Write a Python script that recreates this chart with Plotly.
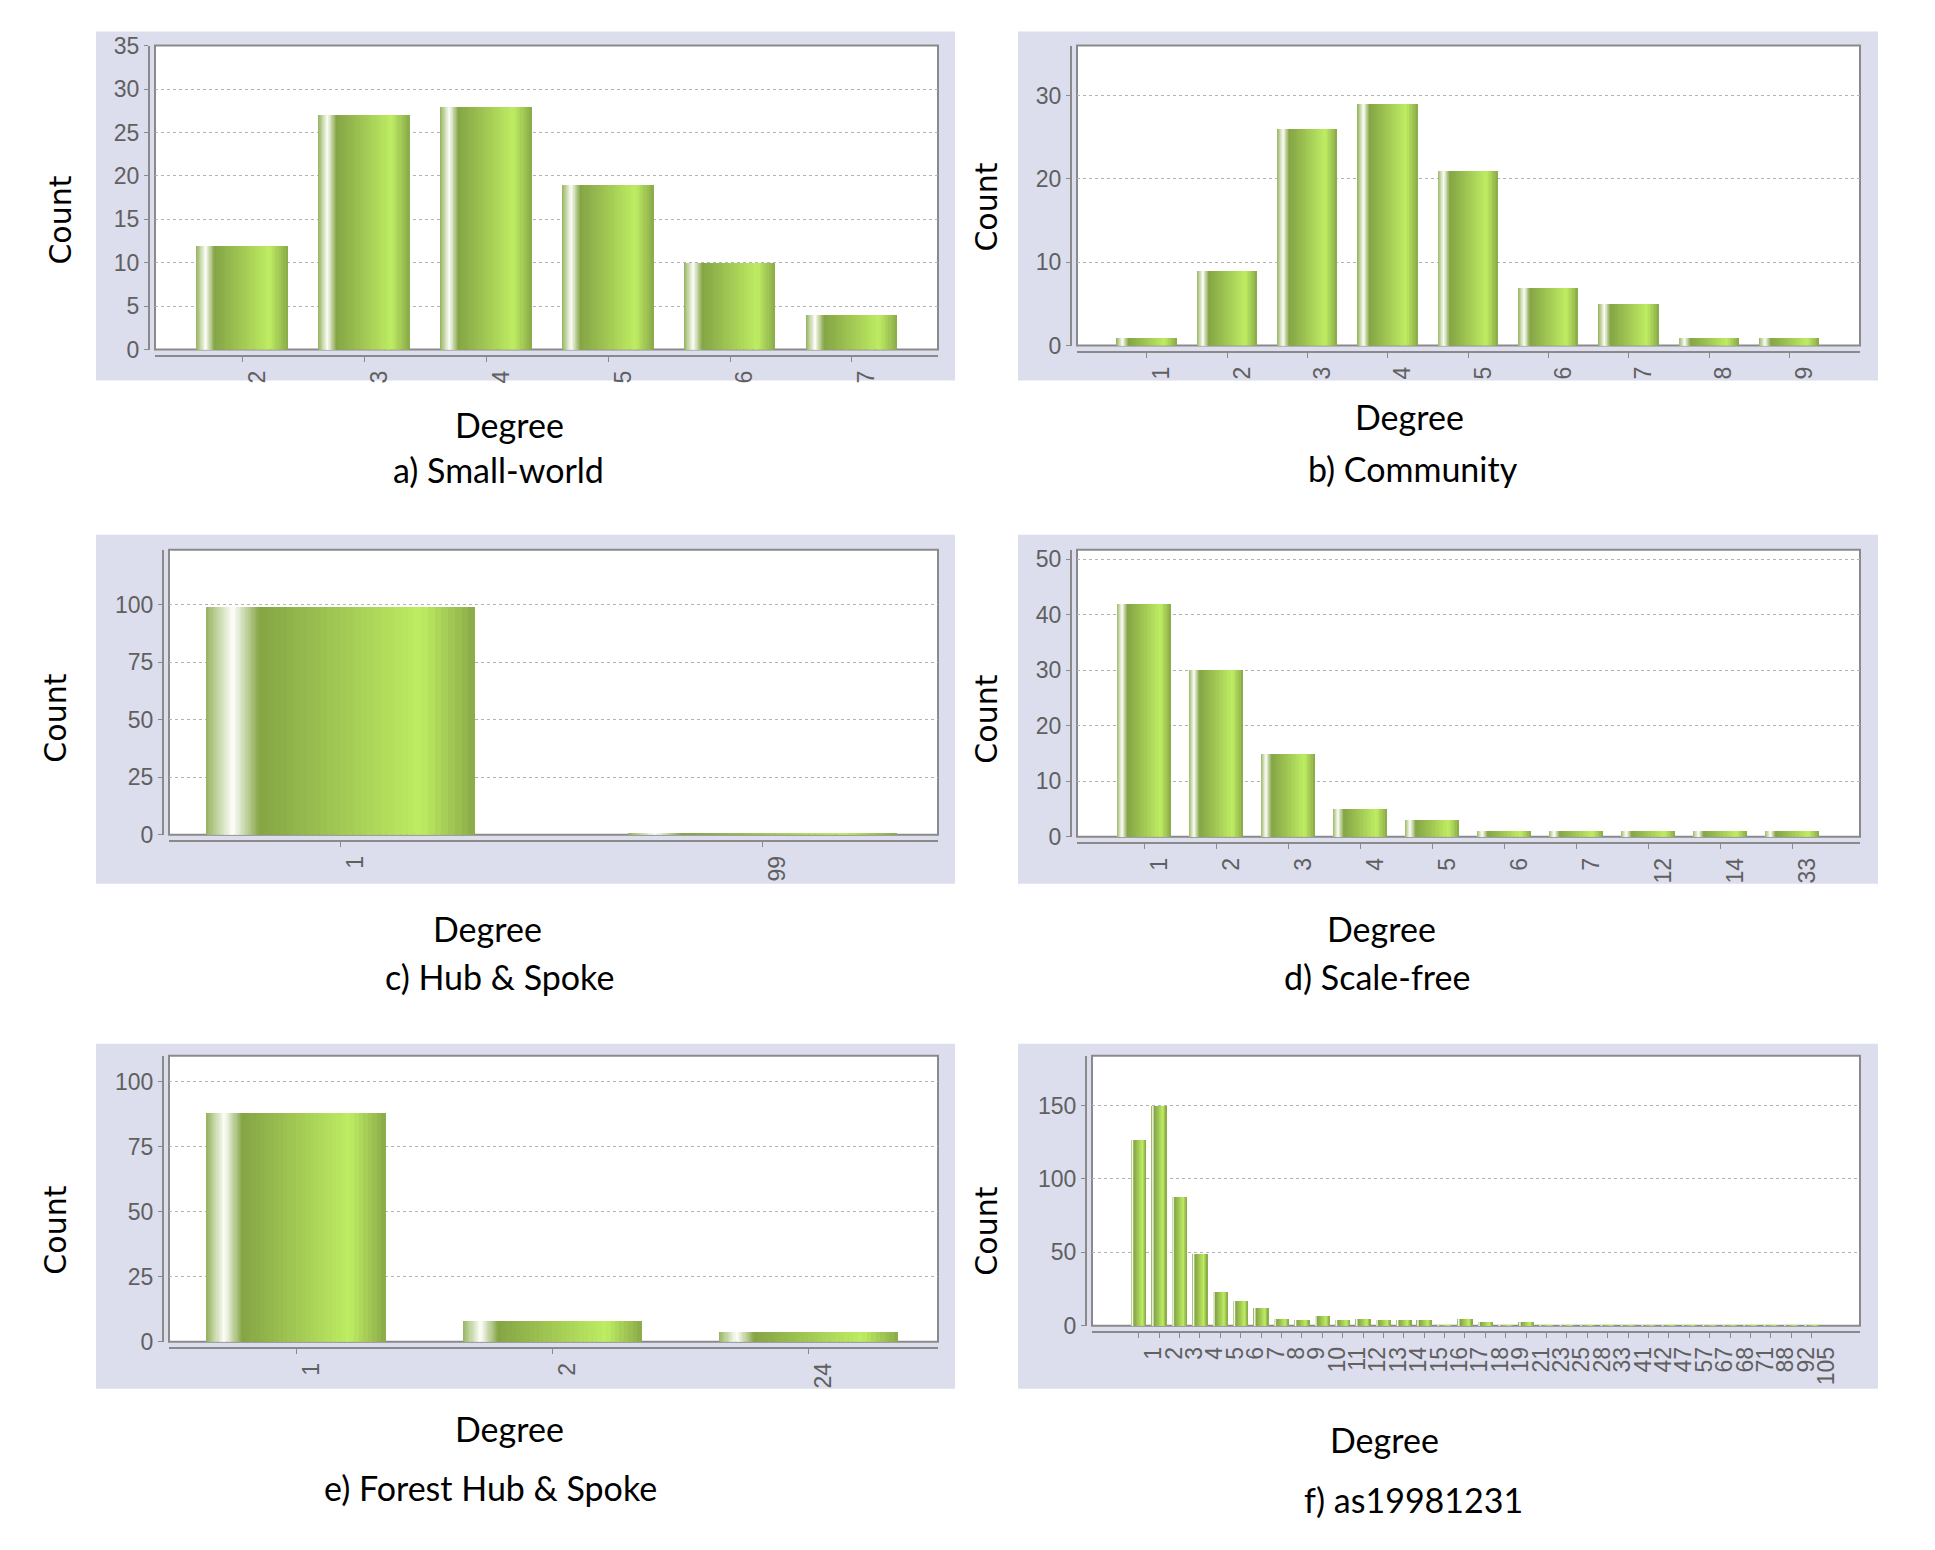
import numpy as np
import plotly.graph_objects as go
from plotly.subplots import make_subplots

# figure size and the pixel mapping of the rendered page (measured offsets)
W, H = 1919, 1535
OX = 8
OY, SY = 21.4, 0.983

# a) Small-world
sw_deg = ["2", "3", "4", "5", "6", "7"]
sw_cnt = [12, 27, 28, 19, 10, 4]

# b) Community
com_deg = ["1", "2", "3", "4", "5", "6", "7", "8", "9"]
com_cnt = [1, 9, 26, 29, 21, 7, 5, 1, 1]

# c) Hub & Spoke
hub_deg = ["1", "99"]
hub_cnt = [99, 1]

# d) Scale-free
sf_deg = ["1", "2", "3", "4", "5", "6", "7", "12", "14", "33"]
sf_cnt = [42, 30, 15, 5, 3, 1, 1, 1, 1, 1]

# e) Forest Hub & Spoke
fhs_deg = ["1", "2", "24"]
fhs_cnt = [88, 8, 4]

# f) as19981231
as_deg = ["1", "2", "3", "4", "5", "6", "7", "8", "9", "10", "11", "12", "13", "14",
          "15", "16", "17", "18", "19", "21", "23", "25", "28", "33", "41", "42", "47",
          "57", "67", "68", "71", "88", "92", "105"]
as_cnt = [127, 150, 88, 49, 23, 17, 12, 5, 4, 7, 4, 5, 4, 4,
          4, 1, 5, 3, 1, 3, 1, 1, 1, 1, 1, 1, 1,
          1, 1, 1, 1, 1, 1, 1]

# panel settings: data, pixel boxes (gray box, plot frame), axis ranges, bar width
panels = [
    dict(x=sw_deg, y=sw_cnt, box=(96, 32, 955, 381), frame=(155, 46, 938, 350),
         xr=[-0.716, 5.706], yr=[0, 35], dt=5, bw=0.746,
         title="a) Small-world", deg=(509, 425), ttl=(498, 470), cnt=(61, 221)),
    dict(x=com_deg, y=com_cnt, box=(1018, 32, 1878, 381), frame=(1077, 46, 1860, 346),
         xr=[-0.87, 8.88], yr=[0, 36], dt=10, bw=0.744,
         title="b) Community", deg=(1409, 417), ttl=(1413, 469), cnt=(987, 207)),
    dict(x=hub_deg, y=hub_cnt, box=(96, 535, 955, 884), frame=(169, 550, 938, 835),
         xr=[-0.406, 1.415], yr=[0, 124], dt=25, bw=0.637,
         title="c) Hub & Spoke", deg=(487, 929), ttl=(499, 977), cnt=(56, 719)),
    dict(x=sf_deg, y=sf_cnt, box=(1018, 535, 1878, 884), frame=(1077, 550, 1860, 837),
         xr=[-0.933, 9.94], yr=[0, 51.7], dt=10, bw=0.75,
         title="d) Scale-free", deg=(1381, 929), ttl=(1377, 977), cnt=(987, 719)),
    dict(x=fhs_deg, y=fhs_cnt, box=(96, 1044, 955, 1389), frame=(169, 1056, 938, 1342),
         xr=[-0.496, 2.506], yr=[0, 110], dt=25, bw=0.70,
         title="e) Forest Hub & Spoke", deg=(509, 1429), ttl=(490, 1488), cnt=(56, 1231)),
    dict(x=as_deg, y=as_cnt, box=(1018, 1044, 1878, 1389), frame=(1092, 1056, 1860, 1326),
         xr=[-2.29, 35.37], yr=[0, 184], dt=50, bw=0.71,
         title="f) as19981231", deg=(1384, 1440), ttl=(1413, 1500), cnt=(987, 1231)),
]


def px(x):
    return (x - OX) / W


def py(y):
    return 1 - ((y - OY) / SY) / H


# horizontal gradient of the bars (JFreeChart style)
stops = [(0.0, (150, 180, 95)), (0.10, (253, 254, 250)), (0.20, (133, 165, 69)),
         (0.80, (190, 236, 99)), (1.0, (137, 170, 72))]


def grad_color(t):
    for (t0, c0), (t1, c1) in zip(stops[:-1], stops[1:]):
        if t <= t1:
            f = (t - t0) / (t1 - t0)
            c = [round(a + (b - a) * f) for a, b in zip(c0, c1)]
            return "rgb(%d,%d,%d)" % tuple(c)
    return "rgb(%d,%d,%d)" % stops[-1][1]


# slice borders: fine around the highlight, coarser on the long ramp
edges = np.concatenate([np.linspace(0, 0.25, 41), np.linspace(0.25, 1, 31)[1:]])

fig = make_subplots(rows=3, cols=2)
shapes = []
annotations = []
grid = "#b4b4b4"
axis_col = "#8a8a8a"
tick_font = dict(family="Liberation Sans, Arial, sans-serif", size=23, color="#606060")
text_font = dict(family="Lato, sans-serif", size=34, color="black")

for i, p in enumerate(panels):
    r, c = i // 2 + 1, i % 2 + 1
    bw = p["bw"]
    for k in range(len(edges) - 1):
        a0, a1 = edges[k], edges[k + 1]
        t = (a0 + a1) / 2
        w = (a1 - a0) * bw
        if k < len(edges) - 2:
            w *= 1.8
        fig.add_trace(go.Bar(x=p["x"], y=p["y"], width=w, offset=-bw / 2 + a0 * bw,
                             marker=dict(color=grad_color(t), line=dict(width=0)),
                             showlegend=False, hoverinfo="x+y"), row=r, col=c)

    x0, y0, x1, y1 = p["frame"]
    n = i + 1
    xa = "xaxis" if n == 1 else "xaxis%d" % n
    ya = "yaxis" if n == 1 else "yaxis%d" % n
    fig.layout[xa].update(
        domain=[px(x0), px(x1)], range=p["xr"], type="category", anchor="free",
        position=py(y1 + 6), showline=True, linecolor=axis_col, linewidth=2,
        ticks="outside", ticklen=5, tickcolor=axis_col, tickangle=-90,
        tickmode="array", tickvals=p["x"], ticktext=p["x"],
        ticklabelshift=15, tickfont=tick_font, showgrid=False, zeroline=False)
    fig.layout[ya].update(
        domain=[py(y1), py(y0)], range=p["yr"], anchor="free", position=px(x0 - 6),
        showline=True, linecolor=axis_col, linewidth=2, ticks="outside", ticklen=4,
        tickcolor=axis_col, dtick=p["dt"], tick0=0, tickfont=tick_font,
        showgrid=True, gridcolor=grid, gridwidth=1, griddash="dot", zeroline=False)

    bx0, by0, bx1, by1 = p["box"]
    shapes.append(dict(type="rect", xref="paper", yref="paper", layer="below",
                       x0=px(bx0), x1=px(bx1), y0=py(by1), y1=py(by0),
                       fillcolor="#dcdeee", line=dict(width=0)))
    # plot frame under the bars, so the small bars sit on the frame line
    shapes.append(dict(type="rect", xref="paper", yref="paper", layer="below",
                       x0=px(x0), x1=px(x1), y0=py(y1), y1=py(y0),
                       fillcolor="white", line=dict(color=axis_col, width=2)))

    annotations.append(dict(text="Count", textangle=-90, x=px(p["cnt"][0]),
                            y=py(p["cnt"][1]), xref="paper", yref="paper",
                            showarrow=False, xanchor="center", yanchor="middle",
                            font=dict(family="DejaVu Sans, sans-serif", size=30,
                                      color="black")))
    annotations.append(dict(text="Degree", x=px(p["deg"][0]), y=py(p["deg"][1]),
                            xref="paper", yref="paper", showarrow=False,
                            xanchor="center", yanchor="middle", font=text_font))
    annotations.append(dict(text=p["title"], x=px(p["ttl"][0]), y=py(p["ttl"][1]),
                            xref="paper", yref="paper", showarrow=False,
                            xanchor="center", yanchor="middle", font=text_font))

fig.update_layout(
    width=W, height=H, margin=dict(l=0, r=0, t=0, b=0),
    paper_bgcolor="white", plot_bgcolor="rgba(0,0,0,0)",
    barmode="overlay", bargap=0, showlegend=False,
    shapes=shapes, annotations=annotations)

fig.write_html("out.html")
